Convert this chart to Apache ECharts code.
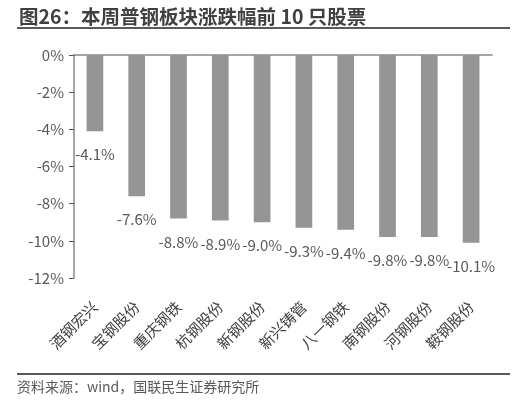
<!DOCTYPE html>
<html>
<head>
<meta charset="utf-8">
<script src="https://cdn.jsdelivr.net/npm/echarts@6/dist/echarts.min.js"></script>
<style>
  html, body { margin: 0; padding: 0; background: #fff; }
  #chart { width: 516px; height: 401px; }
</style>
</head>
<body>
<div id="chart"></div>
<script>
// 股票名称
var stocks = ['酒钢宏兴', '宝钢股份', '重庆钢铁', '杭钢股份', '新钢股份', '新兴铸管', '八一钢铁', '南钢股份', '河钢股份', '鞍钢股份'];
// 本周涨跌幅 (%)
var changes = [-4.1, -7.6, -8.8, -8.9, -9.0, -9.3, -9.4, -9.8, -9.8, -10.1];
// 纵轴刻度
var yMin = -12;
var yMax = 0;
var yStep = 2;

var font = '"Microsoft YaHei", "Noto Sans CJK SC", sans-serif';
var textColor = '#595959';

var chart = echarts.init(document.getElementById('chart'));

chart.setOption({
  animation: false,
  title: {
    text: '图26：本周普钢板块涨跌幅前 10 只股票',
    left: 14,
    top: 2,
    textStyle: {
      fontFamily: font,
      fontSize: 19.5,
      fontWeight: 'bold',
      color: '#404040'
    }
  },
  graphic: [{
    type: 'line',
    shape: { x1: 17, y1: 28, x2: 510, y2: 28 },
    style: { stroke: '#595959', lineWidth: 2 }
  }, {
    type: 'line',
    shape: { x1: 17, y1: 374, x2: 510, y2: 374 },
    style: { stroke: '#595959', lineWidth: 2 }
  }, {
    type: 'text',
    left: 17,
    top: 380,
    style: {
      text: '资料来源：wind，国联民生证券研究所',
      font: '14px ' + font,
      fill: textColor
    }
  }],
  grid: {
    left: 74,
    right: 24,
    top: 55,
    bottom: 123
  },
  xAxis: [{
    type: 'category',
    position: 'top',
    data: stocks,
    axisLine: { lineStyle: { color: '#888', width: 1.5 } },
    axisTick: { inside: true, length: 5, lineStyle: { color: '#555' } },
    axisLabel: { show: false }
  }, {
    type: 'category',
    position: 'bottom',
    data: stocks,
    axisLine: { show: false },
    axisTick: { show: false },
    axisLabel: {
      rotate: 45,
      margin: 26,
      interval: 0,
      fontFamily: font,
      fontSize: 15,
      color: '#404040'
    }
  }],
  yAxis: {
    type: 'value',
    min: yMin,
    max: yMax,
    interval: yStep,
    axisLine: { show: true, lineStyle: { color: '#888', width: 1.5 } },
    axisTick: { show: true, length: 5, lineStyle: { color: '#555' } },
    splitLine: { show: false },
    axisLabel: {
      margin: 10,
      fontFamily: font,
      fontSize: 15,
      color: textColor,
      formatter: function (v) { return v + '%'; }
    }
  },
  series: [{
    type: 'bar',
    xAxisIndex: 0,
    data: changes,
    barWidth: '40%',
    itemStyle: { color: '#959595' },
    label: {
      show: true,
      position: 'bottom',
      distance: 16,
      fontFamily: font,
      fontSize: 15,
      color: textColor,
      formatter: function (p) { return p.value.toFixed(1) + '%'; }
    }
  }]
});
</script>
</body>
</html>
